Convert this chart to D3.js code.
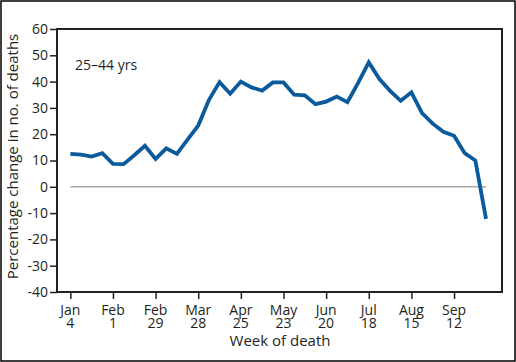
<!DOCTYPE html>
<html>
<head>
<meta charset="utf-8" />
<script src="https://d3js.org/d3.v7.min.js"></script>
<style>
  body { margin: 0; background: #fff; }
  text { font-family: "Open Sans", Lato, sans-serif; fill: #231f20; }
</style>
</head>
<body>
<div id="chart"></div>
<script>
// weekly % change in deaths, 25-44 yrs, week 0 = Jan 4
var weeks = d3.range(0, 40);
var pctChange = [12.5, 12.2, 11.5, 12.8, 8.7, 8.6, 12, 15.6, 10.6, 14.6,
                 12.5, 17.9, 23.3, 33, 39.8, 35.4, 40, 37.8, 36.6, 39.7,
                 39.7, 35, 34.8, 31.4, 32.4, 34.3, 32.2, 39.5, 47.3, 41,
                 36.5, 32.7, 35.9, 28, 24, 20.9, 19.4, 12.8, 10, -12.2];
var tickWeeks = [0, 4, 8, 12, 16, 20, 24, 28, 32, 36];
var tickMonths = ["Jan", "Feb", "Feb", "Mar", "Apr", "May", "Jun", "Jul", "Aug", "Sep"];
var tickDays = ["4", "1", "29", "28", "25", "23", "20", "18", "15", "12"];
var yTicks = [60, 50, 40, 30, 20, 10, 0, -10, -20, -30, -40];

var W = 516, H = 362;
var pL = 57, pR = 502, pT = 29, pB = 292;

var svg = d3.select("#chart").append("svg")
    .attr("width", W).attr("height", H);

// outer frame
svg.append("rect")
    .attr("x", 1).attr("y", 1).attr("width", W - 2).attr("height", H - 2)
    .attr("fill", "none").attr("stroke", "#000").attr("stroke-width", 1.5);

var x = d3.scaleLinear().domain([-1.25, 40.5]).range([pL, pR]);
var y = d3.scaleLinear().domain([-40, 60]).range([pB, pT]);

// zero line
svg.append("line")
    .attr("x1", x(0)).attr("x2", x(39))
    .attr("y1", y(0)).attr("y2", y(0))
    .attr("stroke", "#a7a9ac").attr("stroke-width", 1.5);

// y axis (plain hyphen for negatives, like the original)
var yAxis = svg.append("g")
    .attr("transform", "translate(" + pL + ",0)")
    .call(d3.axisLeft(y).tickValues(yTicks).tickSize(7).tickPadding(2)
        .tickFormat(function(d) { return String(d); }));
yAxis.select(".domain").remove();
yAxis.selectAll("line").attr("stroke", "#231f20").attr("stroke-width", 1.5);
yAxis.selectAll("text").attr("font-size", 14).attr("fill", "#231f20")
    .style("font-family", "'Open Sans', Lato, sans-serif");

// x axis
var xAxis = svg.append("g")
    .attr("transform", "translate(0," + pB + ")")
    .call(d3.axisBottom(x).tickValues(tickWeeks).tickSize(7).tickFormat(""));
xAxis.select(".domain").remove();
xAxis.selectAll("line").attr("stroke", "#231f20").attr("stroke-width", 1.5);

// two-line tick labels
svg.append("g").selectAll("text")
    .data(tickWeeks)
    .enter().append("text")
    .attr("text-anchor", "middle")
    .attr("font-size", 14)
    .attr("x", function(d) { return x(d); })
    .attr("y", 315)
    .text(function(d, i) { return tickMonths[i]; });
svg.append("g").selectAll("text")
    .data(tickWeeks)
    .enter().append("text")
    .attr("text-anchor", "middle")
    .attr("font-size", 14)
    .attr("x", function(d) { return x(d); })
    .attr("y", 328)
    .text(function(d, i) { return tickDays[i]; });

// plot frame
svg.append("rect")
    .attr("x", pL).attr("y", pT)
    .attr("width", pR - pL).attr("height", pB - pT)
    .attr("fill", "none").attr("stroke", "#231f20").attr("stroke-width", 2);

// data line
var line = d3.line()
    .x(function(d, i) { return x(weeks[i]); })
    .y(function(d) { return y(d); });
svg.append("path")
    .datum(pctChange)
    .attr("d", line)
    .attr("fill", "none")
    .attr("stroke", "#0b5a9c")
    .attr("stroke-width", 3.8)
    .attr("stroke-linejoin", "miter");

// labels
svg.append("text")
    .attr("x", 75).attr("y", 70)
    .attr("font-size", 14)
    .text("25–44 yrs");

svg.append("text")
    .attr("text-anchor", "middle")
    .attr("x", 280).attr("y", 346)
    .attr("font-size", 15)
    .text("Week of death");

svg.append("text")
    .attr("text-anchor", "middle")
    .attr("transform", "translate(18," + ((pT + pB) / 2 - 4) + ") rotate(-90)")
    .attr("font-size", 15)
    .text("Percentage change in no. of deaths");
</script>
</body>
</html>
